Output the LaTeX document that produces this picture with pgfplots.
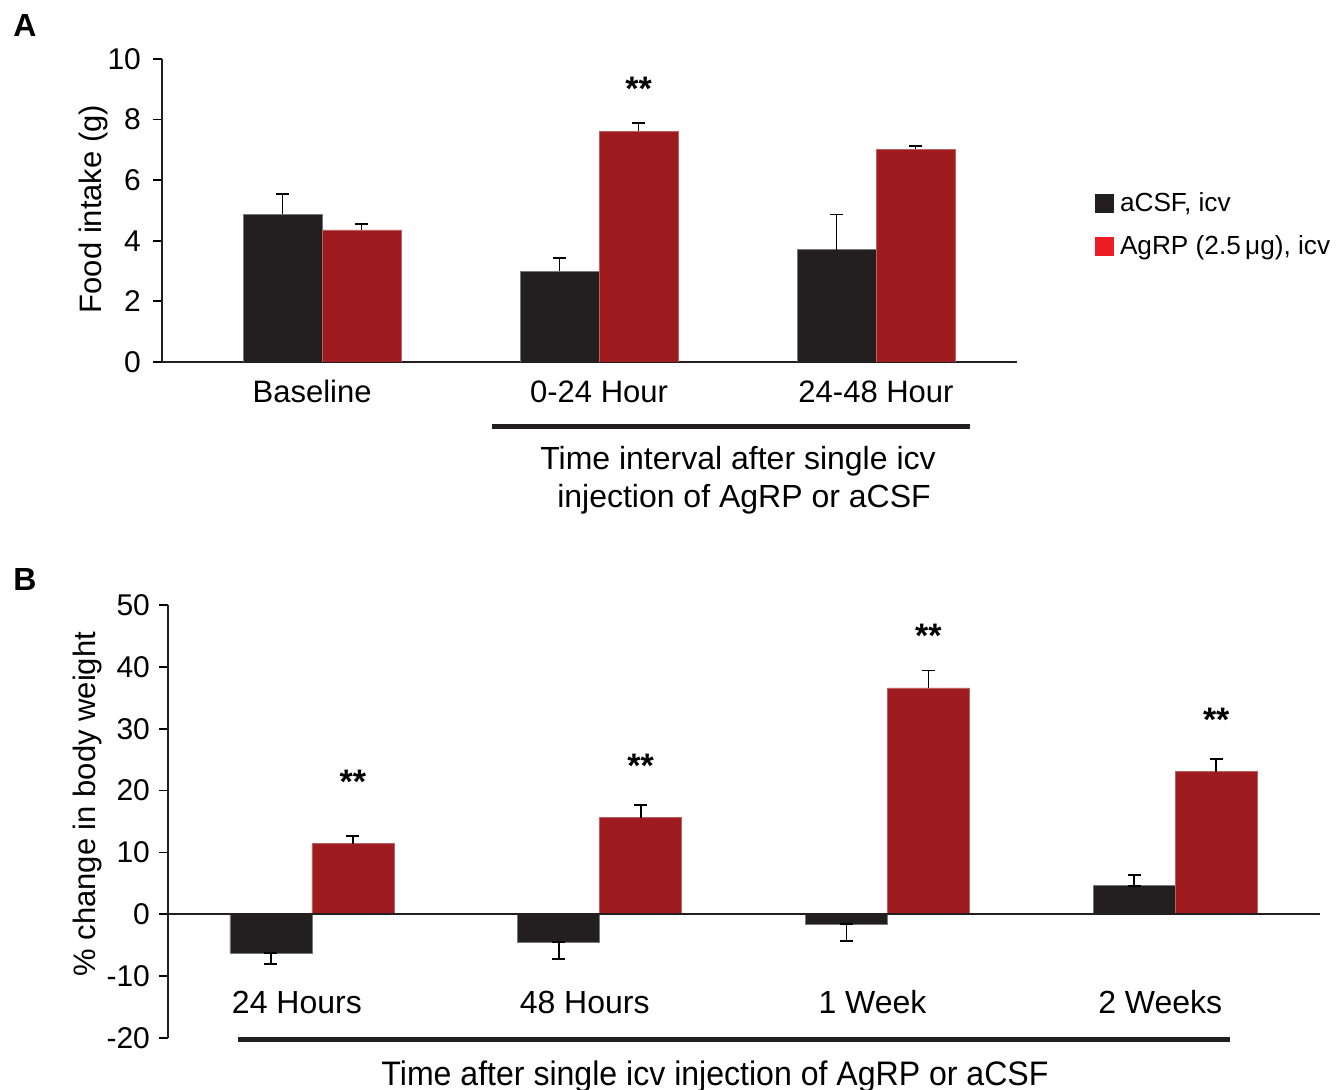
\documentclass[border=0pt]{standalone}
\usepackage{pgfplots}
\pgfplotsset{compat=1.18}
\usepackage{pgfplotstable}
\usepackage{fontspec}
\setmainfont{Liberation Sans}
\definecolor{barblack}{HTML}{231F20}
\definecolor{barred}{HTML}{9E1C20}
\definecolor{legred}{HTML}{ED1C24}

\pgfplotstableread{
x y ep em
0 4.88 0.66 0
1 3.00 0.42 0
2 3.71 1.16 0
}\Ablack
\pgfplotstableread{
x y ep em
0 4.36 0.20 0
1 7.62 0.28 0
2 7.02 0.11 0
}\Ared
\pgfplotstableread{
x y ep em
0 -6.25 0 1.74
1 -4.47 0 2.80
2 -1.60 0 2.70
3 4.63 1.67 0
}\Bblack
\pgfplotstableread{
x y ep em
0 11.42 1.23 0
1 15.62 2.04 0
2 36.60 2.80 0
3 23.05 2.00 0
}\Bred

\begin{document}
\begin{tikzpicture}
\useasboundingbox (0pt,0pt) rectangle (671.5pt,545pt);
\pgfplotsset{
  every axis/.append style={
    scale only axis,
    /pgf/number format/assume math mode=true,
    tick align=outside,
    major tick length=4.5pt,
    tick style={black, line width=0.9pt},
    axis line style={barblack, line width=1pt},
    tick label style={font=\fontsize{15}{18}\selectfont},
    xtick style={draw=none},
    error bars/error bar style={black, line width=0.9pt},
    error bars/error mark options={black, line width=0.9pt, rotate=90, mark size=3.2pt},
  }
}
% ---------------- Panel A ----------------
\begin{axis}[
  at={(81pt,364pt)}, anchor=south west,
  width=427.5pt, height=151.5pt,
  ymin=0, ymax=10, ytick={0,2,4,6,8,10},
  xmin=-0.578, xmax=2.509,
  axis x line*=bottom, axis y line*=left,
  xtick={0,1,2}, xticklabels={Baseline\hspace*{10pt},0-24 Hour,24-48 Hour},
  xticklabel style={anchor=base, yshift=-16pt, font=\fontsize{15.5}{18}\selectfont},
  yticklabel style={xshift=-2.5pt},
  ylabel={Food intake (g)},
  ylabel style={at={(axis description cs:-0.08,0.505)}, anchor=center, font=\fontsize{15.5}{18}\selectfont},
  ybar=0pt, bar width=39.5pt,
  legend style={at={(rel axis cs:1.091,0.574)}, anchor=north west, draw=none, fill=none,
    font=\fontsize{13.1}{16}\selectfont, row sep=6.5pt, inner sep=0pt,
    /tikz/every odd column/.append style={column sep=1pt}},
  legend cell align=left,
]
\addlegendimage{legend image code/.code={\fill[barblack] (0pt,-4.5pt) rectangle (9pt,4.5pt);}}
\addlegendimage{legend image code/.code={\fill[legred] (0pt,-4.5pt) rectangle (9pt,4.5pt);}}
\legend{{aCSF, icv}, {AgRP (2.5\,μg), icv}}
\addplot+[fill=barblack, draw=barblack!60, line width=0.3pt,
  error bars/.cd, y dir=plus, y explicit]
  table[x=x, y=y, y error plus=ep, y error minus=em]{\Ablack};
\addplot+[fill=barred, draw=barred!70, line width=0.3pt,
  error bars/.cd, y dir=plus, y explicit]
  table[x=x, y=y, y error plus=ep, y error minus=em]{\Ared};
\node[font=\bfseries\fontsize{17}{18}\selectfont] at (axis cs:1.1426,9.03) {**};
\end{axis}
% ---------------- Panel B ----------------
\begin{axis}[
  at={(84pt,26pt)}, anchor=south west,
  width=576pt, height=216.5pt,
  ymin=-20, ymax=50, ytick={-20,-10,0,10,20,30,40,50},
  xmin=-0.5, xmax=3.503,
  axis x line*=bottom, axis y line*=left,
  x axis line style={draw=none},
  xtick={0,1,2,3}, xticklabels={24 Hours,48 Hours,1 Week,2 Weeks},
  xticklabel style={anchor=base, yshift=16.5pt, xshift=-7.5pt, font=\fontsize{16}{18}\selectfont},
  yticklabel style={xshift=-1pt},
  ylabel={\% change in body weight},
  ylabel style={at={(axis description cs:-0.0703,0.54)}, anchor=center, font=\fontsize{15.5}{18}\selectfont},
  ybar=0pt, bar width=41pt,
]
\addplot+[fill=barblack, draw=barblack!60, line width=0.3pt,
  error bars/.cd, y dir=both, y explicit]
  table[x=x, y=y, y error plus=ep, y error minus=em]{\Bblack};
\addplot+[fill=barred, draw=barred!70, line width=0.3pt,
  error bars/.cd, y dir=plus, y explicit]
  table[x=x, y=y, y error plus=ep, y error minus=em]{\Bred};
\draw[barblack, line width=1pt] (axis cs:-0.5,0) -- (axis cs:3.503,0);
\node[font=\bfseries\fontsize{17}{18}\selectfont] at (axis cs:0.1424,21.4) {**};
\node[font=\bfseries\fontsize{17}{18}\selectfont] at (axis cs:1.1424,24.0) {**};
\node[font=\bfseries\fontsize{17}{18}\selectfont] at (axis cs:2.1424,45.0) {**};
\node[font=\bfseries\fontsize{17}{18}\selectfont] at (axis cs:3.1424,31.4) {**};
\end{axis}
% ---------------- decorations ----------------
\node[font=\bfseries\fontsize{16}{18}\selectfont] at (12.5pt,532pt) {A};
\node[font=\bfseries\fontsize{16}{18}\selectfont] at (12.5pt,255pt) {B};
\draw[barblack, line width=2.5pt] (246pt,331.5pt) -- (485pt,331.5pt);
\node[anchor=base, font=\fontsize{16}{18}\selectfont] at (369pt,310pt) {Time interval after single icv};
\node[anchor=base, font=\fontsize{16}{18}\selectfont] at (372pt,291pt) {injection of AgRP or aCSF};
\draw[barblack, line width=2.5pt] (119pt,25pt) -- (615pt,25pt);
\node[anchor=base, xscale=0.943, font=\fontsize{17}{18}\selectfont] at (357.5pt,2.2pt) {Time after single icv injection of AgRP or aCSF};
\end{tikzpicture}
\end{document}
